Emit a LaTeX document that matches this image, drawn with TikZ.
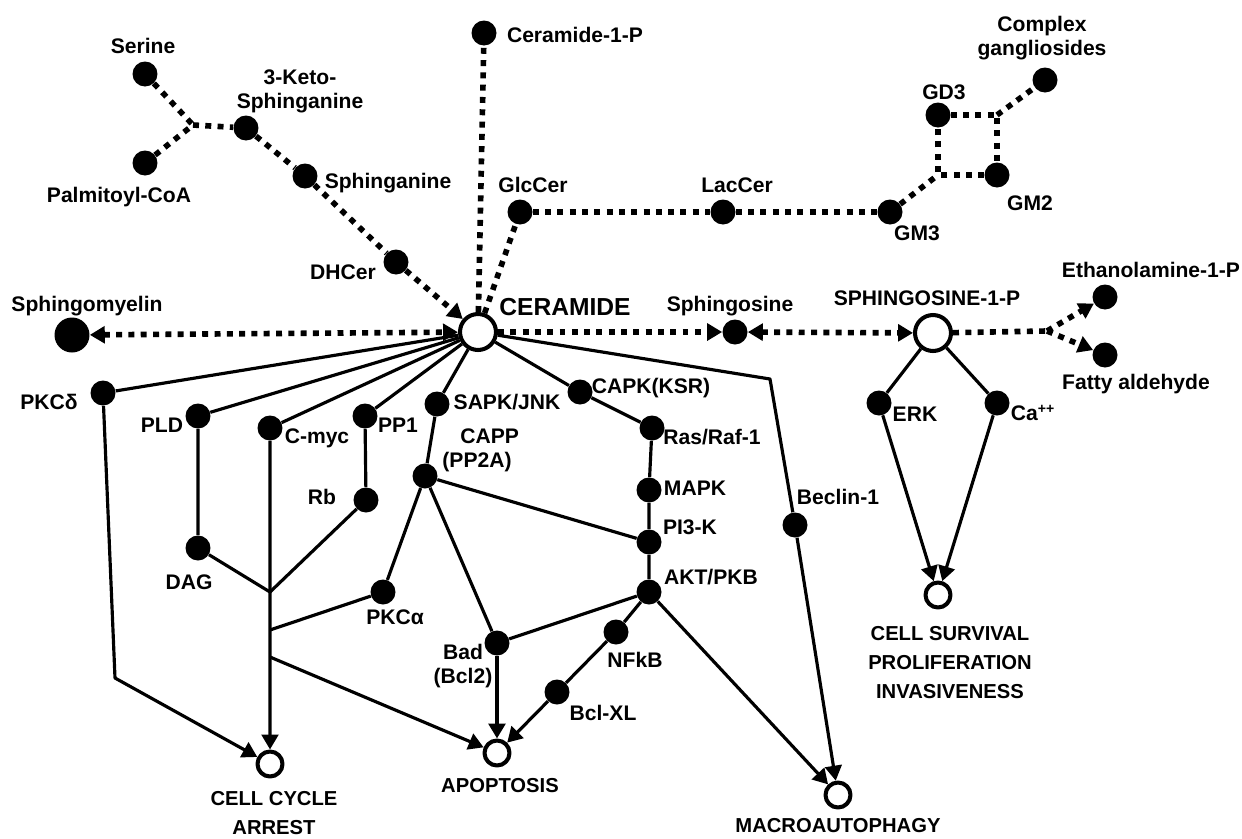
\documentclass[tikz,border=0pt]{standalone}
\usepackage{fontspec}
\setmainfont{Liberation Sans}
\usetikzlibrary{arrows.meta}
\tikzset{
  dot/.style={circle,fill=black,inner sep=0pt,minimum size=0.5cm},
  bigdot/.style={dot,minimum size=0.7cm},
  hub/.style={circle,draw=black,fill=white,line width=2.3pt,inner sep=0pt,minimum size=0.72cm},
  fate/.style={hub,minimum size=0.5cm},
  lbl/.style={font=\fontsize{12}{13.6}\selectfont\bfseries,inner sep=0pt,align=center},
  fatelbl/.style={font=\fontsize{11.5}{16.5}\selectfont\bfseries,inner sep=0pt,align=center},
  meta/.style={line width=3.2pt,dash pattern=on 3.4pt off 3.6pt},
  sig/.style={line width=1.8pt},
}
\begin{document}
\begin{tikzpicture}[x=0.02cm,y=-0.02cm,line join=round,>={Triangle[length=8.5pt,width=9.5pt]}]
\useasboundingbox (0,0) rectangle (1242,839);
% synthesis and metabolism
\node[dot] (serine) at (145,74) {};
\node[dot] (palm) at (145,163) {};
\node[dot] (keto) at (246,128) {};
\node[dot] (sphinganine) at (305,176) {};
\node[dot] (dhcer) at (396,262) {};
\node[bigdot] (sphmy) at (72,335) {};
\node[hub] (ceramide) at (478,332) {};
\node[dot] (cer1p) at (484,33) {};
\node[dot] (glccer) at (520,212) {};
\node[dot] (laccer) at (723,212) {};
\node[dot] (gm3) at (890,212) {};
\node[dot] (gd3) at (938,115) {};
\node[dot] (gm2) at (997,175) {};
\node[dot] (complex) at (1045,80) {};
\node[dot] (sphingosine) at (735,332) {};
\node[hub] (s1p) at (933,333) {};
\node[dot] (ethan) at (1105,297) {};
\node[dot] (fatty) at (1105,355) {};
\coordinate (sp) at (193,125);
\coordinate (gx) at (938,175);
\coordinate (gy) at (997,115);
\coordinate (s1pj) at (1047,331);
% signalling
\node[dot] (pkcd) at (103,393) {};
\node[dot] (pld) at (198,416) {};
\node[dot] (cmyc) at (270,428) {};
\node[dot] (pp1) at (365,416) {};
\node[dot] (rb) at (366,500) {};
\node[dot] (dag) at (198,548) {};
\node[dot] (sapk) at (437,404) {};
\node[dot] (capp) at (425,476) {};
\node[dot] (pkca) at (383,592) {};
\node[dot] (capk) at (580,392) {};
\node[dot] (ras) at (652,428) {};
\node[dot] (mapk) at (649,490) {};
\node[dot] (pi3k) at (649,542) {};
\node[dot] (akt) at (649,592) {};
\node[dot] (bad) at (497,643) {};
\node[dot] (nfkb) at (616,632) {};
\node[dot] (bclxl) at (557,692) {};
\node[dot] (beclin) at (795,525) {};
\node[dot] (erk) at (879,403) {};
\node[dot] (ca) at (997,403) {};
\node[fate] (cca) at (270,764) {};
\node[fate] (apop) at (497,753) {};
\node[fate] (macro) at (838,795) {};
\node[fate] (surv) at (938,595) {};
\coordinate (pkcdbend) at (115,678);
\coordinate (becbend) at (770,379);
\coordinate (j1) at (270,592);
\coordinate (j2) at (270,630);
\coordinate (j3) at (270,657);
% labels
\node[lbl] (serine-t) at (143,46) {Serine};
\node[lbl] (palm-t) at (119,197) {Palmitoyl-CoA};
\node[lbl] (keto-t) at (300,91) {3-Keto-\\Sphinganine};
\node[lbl] (sphinganine-t) at (388,183) {Sphinganine};
\node[lbl] (dhcer-t) at (343,272) {DHCer};
\node[lbl] (sphmy-t) at (87,306) {Sphingomyelin};
\node[lbl,font=\fontsize{14}{16}\selectfont\bfseries] (ceramide-t) at (565,307) {CERAMIDE};
\node[lbl] (cer1p-t) at (575,35) {Ceramide-1-P};
\node[lbl] (glccer-t) at (533,185) {GlcCer};
\node[lbl] (laccer-t) at (737,185) {LacCer};
\node[lbl] (gm3-t) at (917,233) {GM3};
\node[lbl] (gd3-t) at (944,92) {GD3};
\node[lbl] (gm2-t) at (1030,203) {GM2};
\node[lbl] (complex-t) at (1042,38) {Complex\\gangliosides};
\node[lbl] (sphingosine-t) at (730,306) {Sphingosine};
\node[lbl] (s1p-t) at (927,298) {SPHINGOSINE-1-P};
\node[lbl] (ethan-t) at (1151,270) {Ethanolamine-1-P};
\node[lbl] (fatty-t) at (1136,384) {Fatty aldehyde};
\node[lbl] (pkcd-t) at (49,402) {PKCδ};
\node[lbl] (pld-t) at (162,425) {PLD};
\node[lbl] (cmyc-t) at (317,438) {C-myc};
\node[lbl] (pp1-t) at (398,425) {PP1};
\node[lbl] (rb-t) at (322,497) {Rb};
\node[lbl] (dag-t) at (189,582) {DAG};
\node[lbl] (sapk-t) at (507,402) {SAPK/JNK};
\node[lbl] (capp-t) at (477,450) {\hspace*{1.2em}CAPP\\(PP2A)};
\node[lbl] (pkca-t) at (395,617) {PKCα};
\node[lbl] (capk-t) at (651,388) {CAPK(KSR)};
\node[lbl] (ras-t) at (712,437) {Ras/Raf-1};
\node[lbl] (mapk-t) at (695,488) {MAPK};
\node[lbl] (pi3k-t) at (690,527) {PI3-K};
\node[lbl] (akt-t) at (711,577) {AKT/PKB};
\node[lbl] (bad-t) at (463,666) {Bad\\(Bcl2)};
\node[lbl] (nfkb-t) at (635,660) {NFkB};
\node[lbl] (bclxl-t) at (603,713) {Bcl-XL};
\node[lbl] (beclin-t) at (838,497) {Beclin-1};
\node[lbl] (erk-t) at (915,414) {ERK};
\node[lbl] (ca-t) at (1033,413) {Ca\textsuperscript{++}};
\node[fatelbl] (cca-t) at (274,813) {CELL CYCLE\\ARREST};
\node[fatelbl] (apop-t) at (500,786) {APOPTOSIS};
\node[fatelbl] (macro-t) at (838,826) {MACROAUTOPHAGY};
\node[fatelbl] (surv-t) at (950,663) {CELL SURVIVAL\\PROLIFERATION\\INVASIVENESS};
% dashed (metabolic) links
\draw[meta] (serine) -- (sp);
\draw[meta] (palm) -- (sp);
\draw[meta] (sp) -- (keto);
\draw[meta] (keto) -- (sphinganine);
\draw[meta] (sphinganine) -- (dhcer);
\draw[meta,->] (dhcer) -- (ceramide);
\draw[meta,<->] (sphmy) -- (ceramide);
\draw[meta] (ceramide) -- (cer1p);
\draw[meta] (ceramide) -- (glccer);
\draw[meta] (glccer) -- (laccer);
\draw[meta] (laccer) -- (gm3);
\draw[meta] (gm3) -- (gx);
\draw[meta] (gd3) -- (gy) -- (gm2);
\draw[meta] (gm2) -- (gx) -- (gd3);
\draw[meta] (gy) -- (complex);
\draw[meta,->] (ceramide) -- (sphingosine);
\draw[meta,<->] (sphingosine) -- (s1p);
\draw[meta] (s1p) -- (s1pj);
\draw[meta,->] (s1pj) -- (ethan);
\draw[meta,->] (s1pj) -- (fatty);
% solid (signalling) links
\draw[sig,->] (ceramide) -- (pkcd) -- (pkcdbend) -- (cca);
\draw[sig] (ceramide) -- (pld) -- (dag) -- (j1);
\draw[sig,->] (ceramide) -- (cmyc) -- (cca);
\draw[sig] (ceramide) -- (pp1) -- (rb) -- (j1);
\draw[sig] (ceramide) -- (sapk) -- (capp);
\draw[sig] (capp) -- (pi3k);
\draw[sig] (capp) -- (pkca) -- (j2);
\draw[sig] (capp) -- (bad);
\draw[sig,->] (j3) -- (apop);
\draw[sig] (ceramide) -- (capk) -- (ras) -- (mapk) -- (pi3k) -- (akt);
\draw[sig] (akt) -- (bad);
\draw[sig,->] (akt) -- (nfkb) -- (bclxl) -- (apop);
\draw[sig,->,line width=2.8pt] (bad) -- (apop);
\draw[sig,->] (akt) -- (macro);
\draw[sig,->] (ceramide) -- (becbend) -- (beclin) -- (macro);
\draw[sig] (s1p) -- (erk);
\draw[sig] (s1p) -- (ca);
\draw[sig,->] (erk) -- (surv);
\draw[sig,->] (ca) -- (surv);
\end{tikzpicture}
\end{document}
